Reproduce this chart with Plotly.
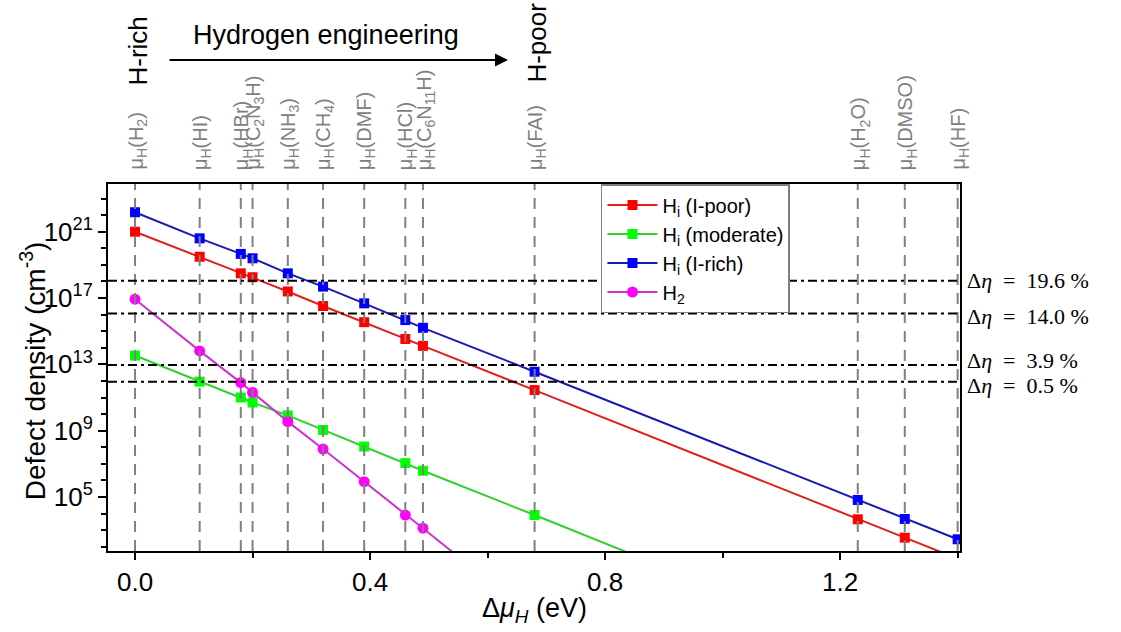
import math
import plotly.graph_objects as go

# Hydrogen chemical potential of each H source (eV)
mu_h = [0.00, 0.11, 0.18, 0.20, 0.26, 0.32, 0.39, 0.46, 0.49, 0.68, 1.23, 1.31, 1.40]
sources = ["H<sub>2</sub>", "HI", "HBr", "C<sub>2</sub>N<sub>3</sub>H", "NH<sub>3</sub>",
           "CH<sub>4</sub>", "DMF", "HCl", "C<sub>6</sub>N<sub>11</sub>H", "FAI",
           "H<sub>2</sub>O", "DMSO", "HF"]

# Defect densities (cm^-3) at each source
hi_i_poor = [1.0e21, 3.1e19, 3.1e18, 1.8e18, 2.5e17, 3.3e16, 3.5e15, 3.4e14, 1.3e14,
             2.8e11, 4.5e3, 3.5e2]
hi_moderate = [3.4e13, 9.1e11, 1.0e11, 5.0e10, 8.3e9, 1.1e9, 1.1e8, 1.1e7, 3.8e6, 8.1e3]
hi_i_rich = [1.5e22, 4.0e20, 4.6e19, 2.5e19, 3.1e18, 4.9e17, 4.8e16, 4.7e15, 1.6e15,
             3.6e12, 6.6e4, 4.7e3, 2.8e2]
h2 = [8.5e16, 6.5e13, 7.9e11, 2.0e11, 3.5e9, 7.8e7, 8.3e5, 8.1e3, 1.3e3]

# Where each guide line runs out below the axis
tail_x = {"poor": 1.40, "moderate": 0.86, "h2": 0.56}
tail_y = {"poor": 19, "moderate": 22, "h2": 13}

# Efficiency-gain thresholds
eta_levels = [1.1e18, 1.15e16, 9.2e12, 9.0e11]
eta_labels = ["19.6", "14.0", "3.9", "0.5"]
eta_shift = [0, -3, 4, -4]

FONT = "Liberation Sans, Arial, sans-serif"
SERIF = "Liberation Serif, Times New Roman, serif"
NB = "&nbsp;"

series = [
    ("H<sub>i</sub> (I-poor)", hi_i_poor, "#FF0000", "#DD2020", "square", "poor"),
    ("H<sub>i</sub> (moderate)", hi_moderate, "#00FF00", "#30D030", "square", "moderate"),
    ("H<sub>i</sub> (I-rich)", hi_i_rich, "#0000FF", "#1A1AB0", "square", None),
    ("H<sub>2</sub>", h2, "#FF00FF", "#CC33CC", "circle", "h2"),
]

fig = go.Figure()
for name, vals, mcol, lcol, sym, tail in series:
    xs = mu_h[:len(vals)]
    if tail:
        fig.add_trace(go.Scatter(x=[xs[-1], tail_x[tail]], y=[vals[-1], tail_y[tail]],
                                 mode="lines", line=dict(color=lcol, width=2),
                                 showlegend=False, hoverinfo="skip"))
    fig.add_trace(go.Scatter(x=xs, y=vals, mode="lines+markers", name=name,
                             line=dict(color=lcol, width=2),
                             marker=dict(symbol=sym, size=11 if sym == "circle" else 10,
                                         color=mcol, line=dict(width=0))))

shapes = []
for x in mu_h:
    shapes.append(dict(type="line", xref="x", yref="paper", x0=x, x1=x, y0=0, y1=1,
                       line=dict(color="#808080", width=2, dash="11px,8px"), layer="above"))
for v in eta_levels:
    shapes.append(dict(type="line", xref="paper", yref="y", x0=0, x1=1, y0=v, y1=v,
                       line=dict(color="black", width=2, dash="9px,4px,3px,4px"), layer="above"))

annotations = []
for x, s in zip(mu_h, sources):
    annotations.append(dict(x=x, y=1.033, xref="x", yref="paper", text="μ<sub>H</sub>(" + s + ")",
                            textangle=-90, showarrow=False, xanchor="center", yanchor="bottom",
                            xshift=2, font=dict(family=FONT, size=20, color="#808080")))
for v, lab, sh in zip(eta_levels, eta_labels, eta_shift):
    annotations.append(dict(x=1.0, xref="paper", y=math.log10(v), yref="y",
                            text="Δ<i>η</i>" + NB * 2 + "=" + NB * 2 + lab + NB + "%",
                            showarrow=False, xanchor="left", yanchor="middle",
                            xshift=5, yshift=sh,
                            font=dict(family=SERIF, size=22, color="black")))
annotations += [
    dict(x=mu_h[0], xref="x", y=1.2616, yref="paper", text="H-rich", textangle=-90,
         showarrow=False, xanchor="center", yanchor="bottom", xshift=3,
         font=dict(family=FONT, size=26, color="black")),
    dict(x=mu_h[9], xref="x", y=1.2698, yref="paper", text="H-poor", textangle=-90,
         showarrow=False, xanchor="center", yanchor="bottom", xshift=2,
         font=dict(family=FONT, size=26, color="black")),
    dict(x=0.2559, xref="paper", y=1.406, yref="paper", text="Hydrogen engineering",
         showarrow=False, xanchor="center", yanchor="middle",
         font=dict(family=FONT, size=27, color="black")),
    dict(x=0.4695, xref="paper", y=1.3379, yref="paper", text="", showarrow=True,
         ax=-340, ay=0, arrowhead=2, arrowsize=1.3, arrowwidth=2, arrowcolor="black"),
    dict(x=0.5, xref="paper", y=-0.161, yref="paper",
         text="Δ<i>μ</i><sub><i>H</i></sub> (eV)", showarrow=False,
         xanchor="center", yanchor="middle", font=dict(family=FONT, size=27, color="black")),
    dict(x=-0.088, xref="paper", y=0.49, yref="paper",
         text="Defect density (cm<sup>-3</sup>)", textangle=-90, showarrow=False,
         xanchor="center", yanchor="middle", font=dict(family=FONT, size=28, color="black")),
]

yr = [1.74, 23.88]
decades = [10.0 ** k for k in range(2, 24)]
halves = [10.0 ** (k + 0.5) for k in range(1, 24)]

fig.update_layout(
    width=1121, height=632,
    margin=dict(l=108, r=161, t=184, b=81),
    paper_bgcolor="white", plot_bgcolor="white",
    font=dict(family=FONT, color="black"),
    shapes=shapes, annotations=annotations,
    legend=dict(x=0.5786, y=1, xanchor="left", yanchor="top", bgcolor="white",
                bordercolor="#7f7f7f", borderwidth=1.5, font=dict(family=FONT, size=20),
                itemwidth=50, tracegroupgap=0),
    xaxis=dict(range=[-0.046, 1.404], tickvals=[0, 0.4, 0.8, 1.2],
               ticktext=["0.0", "0.4", "0.8", "1.2"], ticks="outside", ticklen=7,
               tickwidth=1.5, tickcolor="black", showline=True, linecolor="black",
               linewidth=2, mirror=True, showgrid=False, zeroline=False,
               tickfont=dict(family=FONT, size=26), automargin=False,
               minor=dict(tickvals=[0.2, 0.6, 1.0, 1.4], ticks="outside", ticklen=5,
                          tickwidth=1.5, tickcolor="black", showgrid=False)),
    yaxis=dict(type="log", range=yr, tickvals=[1e5, 1e9, 1e13, 1e17, 1e21],
               ticktext=["10<sup>5</sup>", "10<sup>9</sup>", "10<sup>13</sup>",
                         "10<sup>17</sup>", "10<sup>21</sup>"],
               ticks="outside", ticklen=8, tickwidth=1.5, tickcolor="black",
               showline=True, linecolor="black", linewidth=2, mirror=True,
               showgrid=False, zeroline=False, tickfont=dict(family=FONT, size=26),
               automargin=False,
               minor=dict(tickvals=decades, ticks="outside", ticklen=5, tickwidth=1.5,
                          tickcolor="black", showgrid=False)),
    yaxis2=dict(type="log", range=yr, overlaying="y", side="left", tickvals=halves,
                ticks="outside", ticklen=3, tickwidth=1.2, tickcolor="black",
                showticklabels=False, showline=False, showgrid=False, zeroline=False,
                automargin=False),
)

fig.write_html("out.html")
